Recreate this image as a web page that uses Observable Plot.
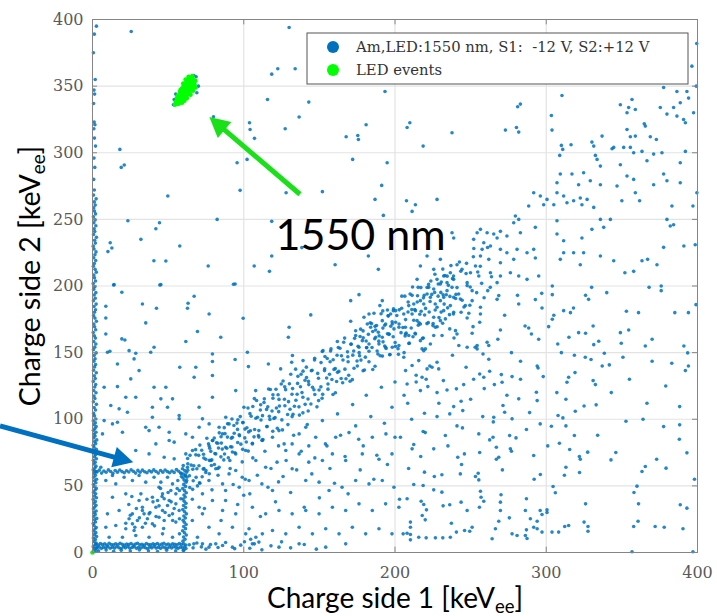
<!DOCTYPE html>
<html>
<head>
<meta charset="utf-8">
<script src="https://cdn.jsdelivr.net/npm/d3@7"></script>
<script src="https://cdn.jsdelivr.net/npm/@observablehq/plot@0.6"></script>
<style>
  html, body { margin: 0; padding: 0; background: #fff; }
  #chart svg { display: block; }
</style>
</head>
<body>
<div id="chart"></div>
<script>
// ---------- tick labels ----------
const xTicks = [0, 100, 200, 300, 400];
const yTicks = [0, 50, 100, 150, 200, 250, 300, 350, 400];
const legendLabels = ["Am,LED:1550 nm, S1:  -12 V, S2:+12 V", "LED events"];
const annotationText = "1550 nm";

// ---------- Am,LED events (blue) [x, y] in keV_ee ----------
const leftLine = [
[0.8,0.6],[2.1,1.5],[1.2,2.7],[2.6,3.6],[0.5,4.4],[1.7,5.8],[2.4,7.1],[0.9,8.2],[1.9,9.7],[0.6,10.9],[2.7,12],[1.3,13.4],[2.2,14.9],[0.7,16.1],[1.6,17.6],[2.5,18.8],[1,20.3],[0.5,21.7],[2,22.9],[1.4,24.5],[2.8,25.6],[0.8,27],[1.8,28.6],[1.1,30.1],[2.4,31.2],[0.6,32.8],[1.5,34.1],[2.3,35.5],[0.9,37],[1.9,38.3],[0.5,39.9],[2.6,41.1],[1.2,42.4],[2.1,44],[0.7,45.3],[1.7,46.9],[2.5,48.1],[1,49.6],[0.6,51],[2.2,52.3],[1.4,53.8],[2.7,55],[0.8,56.5],[1.9,57.9],[1.1,59.4],[2.4,60.6],[0.5,62.1],[1.6,63.5],[2.3,64.8],[0.9,66.4],[1.8,67.7],[0.6,69.2],[2.6,70.4],[1.3,71.9],[2,73.3],[0.7,74.8],[1.5,76.1],[2.5,77.5],[1,79],[0.5,80.4],[2.1,81.7],[1.4,83.3],[2.8,84.5],[0.8,86],[1.7,87.4],[1.1,88.9],[2.3,90.2],[0.6,91.7],[1.6,93],[2.4,94.5],[0.9,95.9],[1.9,97.3],[0.5,98.8],[2.2,100.2],
[1.3,102.5],[0.7,104.4],[2,106.9],[1.1,108.8],[2.6,111.2],[0.6,113.1],[1.6,115.6],[1,117.4],[2.3,119.9],[0.8,121.6],[1.5,124.2],[2.1,126.1],[0.5,128.4],[1.8,130.5],[1.2,132.6],[2.5,134.9],[0.7,136.8],[1.4,139.3],[2,141.1],[0.9,143.6],[1.7,145.4],[1.1,147.9],[2.4,149.8],[0.6,152.2],[1.5,154.1],[2.2,156.5],[0.8,158.4],[1.9,160.9],[1.2,162.7],[0.5,165.1],[2.1,167.2],[1.4,169.4],[0.9,171.5],[2.6,173.6],[1.6,175.9],[0.7,177.8],[1.3,180.3],[2,182.1],[1,184.6],[2.4,186.4],[0.6,188.9],[1.8,190.8],[1.1,193.2],[2.2,195],[0.8,197.5],[1.5,199.4],[0.5,201.8],[2,203.7],[1.3,206.1],[0.9,208.2],[2.5,210.4],[1.7,212.5],[0.6,214.8],[1.2,216.9],[2.1,219.1],[0.8,221.2],[1.6,223.5],[2.3,225.6],[1,227.8],[0.5,229.9],[1.9,232.2],[1.4,234.3],[2.6,236.5],[0.7,238.6],[1.5,240.9],[1.1,243],[2.2,245.2],[0.9,247.5],[1.7,249.6],[0.6,251.9],[2,254.1],[1.3,256.2],[0.8,258.6],[1.8,260.7],[1.2,263.1],[2.4,265.4],[0.7,268.2],
[1.2,272],[0.8,280],[1.5,289],[1,296],[2,305],[1.3,311],[0.9,318],[1.6,321],[1.1,323],[0.7,337],[1.4,344],[1,347],[1.8,355],[0.6,375],[1.2,389],[2.6,395]
];
const boxBottom = [
[3,3.5],[4.4,4.2],[5.9,3.1],[7.3,4],[8.8,3.4],[10.2,4.4],[11.7,3.2],[13.1,3.9],[14.6,3.3],[16,4.3],[17.5,3.6],[18.9,3],[20.4,4.1],[21.8,3.5],[23.3,4.4],[24.7,3.2],[26.2,3.8],[27.6,4.3],[29.1,3.1],[30.5,3.9],[32,3.4],[33.4,4.2],[34.9,3.6],[36.3,3],[37.8,4],[39.2,3.5],[40.7,4.4],[42.1,3.3],[43.6,3.9],[45,3.1],[46.5,4.2],[47.9,3.6],[49.4,3.2],[50.8,4.1],[52.3,3.4],[53.7,4.3],[55.2,3.7],[56.6,3.1],[58.1,4],[59.5,3.5],[61,4.2],
[2.4,6.2],[3.8,5.6],[5.2,6.8],[6.6,5.9],[8.1,6.5],[9.5,5.5],[11,6.9],[12.4,6],[13.9,5.7],[15.3,6.6],[16.8,5.8],[18.2,6.9],[19.7,6.1],[21.1,5.5],[22.6,6.4],[24,5.9],[25.5,6.8],[26.9,5.6],[28.4,6.3],[29.8,6.9],[31.3,5.8],[32.7,6.2],[34.2,5.5],[35.6,6.7],[37.1,6],[38.5,5.7],[40,6.5],[41.4,5.9],[42.9,6.8],[44.3,5.6],[45.8,6.3],[47.2,6.9],[48.7,5.8],[50.1,6.4],[51.6,5.5],[53,6.6],[54.5,6.1],[55.9,5.7],[57.4,6.8],[58.8,6],[60.3,6.5],[61.7,5.6],
[4,1.2],[9,1.8],[14,0.9],[19,1.6],[25,1.1],[31,1.9],[37,1.3],[43,0.8],[49,1.7],[55,1.2],[60,1.5],
[64,5.8],[66.5,3.5],[69,7.1],[72,4.2],[75,2.5],[78,6],[83,3.8],[88,7.5],[94,2.9],[98,5.5],[100.5,8.1],[104,3.2],[107,6.5],[112,2],[118,5],[125,8],[131,3.5],[140,6],[148,2.5]
];
const boxRight = [
[60.5,1.8],[61.8,3],[59.8,8.5],[61.2,10],[60.2,11.6],[62,13.1],[60.8,14.8],[59.6,16.3],[61.5,17.9],[60.3,19.5],[61.9,21],[60.7,22.7],[59.9,24.2],[61.4,25.9],[60.4,27.4],[62.1,29],[60.9,30.6],[59.7,32.2],[61.6,33.8],[60.2,35.3],[61.8,36.9],[60.6,38.5],[59.9,40.1],[61.3,41.7],[60.5,43.2],[62,44.8],[60.8,46.4],[59.6,48],[61.5,49.6],[60.3,51.1],[61.9,52.7],[60.7,54.3],[59.8,55.9],[61.2,57.4],[60.1,58.9],[62.2,60.2],[61,61.5],[59.5,62.8],[62.8,64],[61.5,58],[58.5,59.5],[63,61.8],[60,65.2],[62.4,56.5],[58.8,57]
];
const boxTop = [
[3,60.5],[4.5,61.8],[6,59.6],[7.5,61.2],[9,60.2],[10.5,62],[12,60.8],[13.5,59.4],[15,61.5],[16.5,60.3],[18,61.9],[19.5,60.7],[21,59.8],[22.5,61.4],[24,60.4],[25.5,62.1],[27,60.9],[28.5,59.6],[30,61.6],[31.5,60.2],[33,61.8],[34.5,60.6],[36,59.8],[37.5,61.3],[39,60.5],[40.5,62],[42,60.8],[43.5,59.6],[45,61.5],[46.5,60.3],[48,61.9],[49.5,60.7],[51,59.8],[52.5,61.2],[54,60.1],[55.5,62.2],[57,61],[58.5,59.5],[1.5,61.2]
];
const boxInside = [
[8.8,54],[15.4,51.5],[26.4,54],[35.2,52.8],[44,49],[52.9,51.5],[57.5,46.5],[13.2,41.5],[22,44],[30.8,39],[39.6,41.5],[46.3,44],[50.7,39],[55.1,44],[58.4,40.3],[9.9,29],[17.6,31.5],[26.4,29],[33,31.5],[37.4,29],[41.9,34],[46.3,31.5],[49.6,35.3],[52.9,29],[57.3,31.5],[8.8,19],[15.4,20.3],[22,17.8],[26.4,21.5],[29.7,24],[33,19],[36.3,25.3],[39.6,21.5],[44,26.5],[47.4,24],[50.7,27.8],[55.1,22.8],[57.5,25.3],[11,11.5],[19.8,11.5],[28.6,12.8],[37.4,11.5],[46.3,14],[52.9,11.5],[57.5,14],[24.2,25.3],[27.5,16.5],[34.1,29],[43,39],[47.4,40.3],[51.8,46.5],[45.2,52.8],[55.1,36.5],[56.4,54],[13.2,57.8],[20.9,56.5],[30.8,57.8],[40.7,56.5],[49.6,56.5],
[22,22],[25,28],[28,19],[31,26],[33,34],[35,22],[38,30],[40,38],[42,27],[44,35],[46,42],[48,30],[50,45],[52,38],[54,33],[56,48],[29,33],[36,40],[41,20],[47,18],[24,36],[32,44],[53,24],[45,48],[26,42]
];
// dense diagonal band, first pass (x 63-264)
const bandA = [
[63,66.6],[64.1,57.6],[64.5,72.9],[66.2,47.4],[67,65.1],[68.3,73.3],[68.5,56.4],[70.4,65.1],[71,80.6],[72.5,56.9],[73.4,73.7],[73.7,63],[74.9,70],[76.7,81.6],[77.2,59.1],[78.2,75.9],[78.9,69.5],[80.5,85.9],[80.6,66],[82,82.3],[82.9,63],[83.3,78.4],[85,86.9],[85.8,77.6],[87.1,93.7],[87.3,73.9],[89.2,86.6],[89.8,71.1],[91.3,79.4],[92.2,100.2],[92.5,75.4],[93.7,89.5],[95.5,97.1],[96,82.5],[97,88.4],[97.7,102],[99.3,77.4],[99.4,97.5],[100.8,92.6],[101.7,82.9],
[102.8,108.4],[103.2,90.5],[104.9,102.2],[105.7,82],[107,115.5],[107.2,92.3],[109.1,101.5],[109.7,87.7],[111.2,110.9],[112.1,84.3],[112.4,102.7],[113.6,115.3],[115.4,94.6],[115.9,109.3],[116.9,102.2],[117.6,122.3],[119.2,91],[119.3,115.8],[120.7,101.2],[121.6,108.4],[122.7,118.4],[123.1,105.7],[124.8,126.4],[125.6,92],[126.9,115],[127.1,124.3],[129,103.6],[129.6,113.2],[131.1,133.8],[132,102],[132.3,123],[133.5,109.7],[135.3,118.8],[135.8,132.2],[136.8,103.1],[137.5,124.4],[139.1,116.5],[139.2,136.1],[140.6,111.2],[141.5,131.3],[142.6,106.2],[143,126],[144.7,136.4],[145.5,124],[146.8,144.5],[147,118.6],[148.9,134.4],[149.5,114],[151,124.3],[151.9,150.9],[152.2,118.7],[153.4,136.5],[155.2,145.6],[155.7,126.5],[156.7,133.8],[157.4,151.2],[159,118.6],[159.1,144.7],[160.5,138],[161.4,128.3],[162.5,153.8],[162.9,135.9],[164.6,147.6],[165.4,127.4],[166.7,160.9],[166.9,137.6],[168.8,146.9],[169.4,133],[170.9,156.3],[171.8,129.7],[172.1,148.1],[173.3,160.7],[175.1,140],[175.6,154.7],[176.6,147.6],[177.3,167.6],[178.9,136.4],[179,161.1],[180.4,146.6],[181.3,153.8],[182.4,163.7],[182.8,151],[184.5,171.8],[185.3,137.3],[186.6,160.4],[186.8,169.7],[188.7,149],[189.3,158.6],[190.8,179.2],[191.7,147.4],[192,168.4],[193.2,155],[195,164.2],[195.5,177.6],[196.5,148.4],[197.2,169.8],[198.8,161.9],[198.9,181.5],
[200.3,154.7],[201.2,177.9],[202.3,148.7],[202.7,171.5],[204.4,183.3],[205.2,168.9],[206.5,192.4],[206.7,162.5],[208.6,180.5],[209.2,156.9],[210.7,168.5],[211.6,199.2],[211.9,161.9],[213.1,182.3],[214.9,192.7],[215.4,170.6],[216.4,178.8],[217.1,198.8],[218.7,161],[218.8,191.1],[220.2,183.2],[221.1,171.8],[222.2,201.2],[222.6,180.5],[224.3,193.7],[225.1,170.3],[226.4,208.8],[226.6,182],[228.5,192.4],[229.1,176.3],[230.6,203],[231.5,172.1],[231.8,193.4],[233,207.8],[234.8,183.6],[235.3,200.5],[236.3,192.2],[237,215.3],[238.6,179],[238.7,207.5],[240.1,190.6],[241,198.8],[243.5,211.1],[245.6,184.2],[247.3,217],[249.7,199.3],[252.1,228.1],[254,195],[256.4,214.8],[258.9,191.2],[261.2,228.9],[263.8,206.9]
];
// dense diagonal band, second pass (x 62-257)
const bandB = [
[62.3,54],[62.9,70.5],[64.3,48.8],[65.2,65.6],[66.3,62.5],[66.6,53.8],[68.2,77.2],[69,62.9],[70.2,72.9],[70.7,52.4],[72.2,76.7],[73.2,62.6],[73.6,70.9],[74.9,60],[75.6,85.7],[77.3,69.1],[77.5,78.3],[78.6,65.3],[79.5,84.1],[80.9,74.3],[81.5,62.8],[82.9,82],[83.8,89.8],[84.9,71.8],[85.2,82.1],[86.8,69.5],[87.6,89.2],[88.8,78.2],[89.3,96.6],[90.8,69],[91.8,85.8],[92.2,79.2],[93.5,95.3],[94.2,74.9],[95.9,92.4],[96.1,99.6],[97.2,87.6],[98.1,81.3],[99.5,97.6],
[100.1,109],[100.7,86],[102.1,93.6],[103,76.1],[104.1,104.2],[104.4,91.4],[106,109.6],[106.8,86.8],[108,100.7],[108.5,114.1],[110,86.6],[111,106.9],[111.4,99.4],[112.7,84.8],[113.4,112.6],[115.1,107.4],[115.3,94.5],[116.4,122.7],[117.3,99.9],[118.7,106.2],[119.3,118.4],[119.9,100.6],[121.3,122.5],[122.2,93.3],[123.3,114.9],[123.6,109.9],[125.2,99.5],[126,128.7],[127.2,110.1],[127.7,122.2],[129.2,96],[130.2,126.6],[130.6,107.5],[131.9,118.8],[132.6,103.8],[134.3,137.6],[134.5,114.3],[135.6,126.9],[136.5,109.3],[137.9,133.8],[138.5,120],[139.1,104.8],[140.5,129.3],[141.4,139.1],[142.5,115.2],[142.8,128.4],[144.4,111.4],[145.2,136.8],[146.4,122.1],[146.9,145.8],[148.4,109.3],[149.4,130.8],[149.8,122],[151.1,142.5],[151.8,115.8],[153.5,137.9],[153.7,147.1],[154.8,131],[155.7,122.6],[157.1,143.2],[157.7,152.8],[158.3,129.8],[159.7,137.4],[160.6,119.9],[161.7,148],[162,135.2],[163.6,153.3],[164.4,130.6],[165.6,144.5],[166.1,157.8],[167.6,130.4],[168.6,150.6],[169,143.1],[170.3,128.5],[171,156.4],[172.7,151.2],[172.9,138.3],[174,166.4],[174.9,143.7],[176.3,150],[176.9,162.1],[177.5,144.4],[178.9,166.3],[179.8,137],[180.9,158.7],[181.2,153.7],[182.8,143.2],[183.6,172.4],[184.8,153.8],[185.3,165.9],[186.8,139.8],[187.8,170.4],[188.2,151.2],[189.5,162.6],[190.2,147.6],[191.9,181.3],[192.1,158.1],[193.2,170.6],[194.1,153.1],[195.5,177.6],[196.1,163.7],[196.7,148.6],[198.1,173.1],[199,182.8],
[200.1,157.6],[200.4,172.8],[202,153],[202.8,182.1],[204,165],[204.5,192.4],[206,150],[207,174.8],[207.4,164.6],[208.7,188],[209.4,157.1],[211.1,182.3],[211.3,193],[212.4,174.3],[213.3,164.5],[214.7,188],[215.3,199],[215.9,172.4],[217.3,181],[218.2,160.7],[219.3,193],[219.6,178.2],[221.2,198.9],[222,172.5],[223.2,188.4],[223.7,203.8],[225.2,171.9],[226.2,195.2],[226.6,186.5],[227.9,169.4],[228.6,201.5],[230.3,195.2],[230.5,180.4],[231.6,212.7],[232.5,186.4],[233.9,193.4],[234.5,207.4],[236,178.5],[238,205.5],[240.3,193.7],[242.6,218],[244.4,189.3],[247,209.3],[249.5,185.6],[251.8,221.9],[254.7,210.5],[257.3,202]
];
const bandUpper = [
[144.3,178.3],[170.7,189],[176.2,193.5],[190,185.3],[191.6,189],[195,182],[197.1,179],[200.4,181.5],[182.8,179],[186.1,179.5],[179.5,176.5],[170.7,173.5],[181.7,171.5],[183.9,169],[187.2,167],[189,165.3],[193.8,171.5],[191.6,174],[198.2,171.5],[199.3,167.8],[202.6,169],[196,164],[191.6,161.5],[187.2,161.5],[174,162.8],[178.4,159],[182.8,156.5],[176.2,154],[189.4,156.5],[193.8,154],[198.2,154],[202.6,155.3],[161.9,158.3],[152.4,151.5],
[210,194],[212.4,186.5],[213.5,181.5],[211.3,179],[214.6,174],[216.8,171.5],[206.9,164],[209.1,162.8],[213.5,164],[216.8,159],[205.8,146.5],[211.3,140.3],[215.7,144],[217.9,152.8],[219,151.5],[223.4,156.5],[225.6,162.8],[226.7,169],[230,174],[233.3,175.3],[225.6,176.5],[227.8,184],[230,189],[232.2,191.5],[234.4,196.5],[237.7,199],[242.1,194],[243.2,190.3],[247.7,200.3],[251,196.5],[232.2,181.5],[236.6,185.3],[238.8,191.5],[223.4,191.5],[221.2,194],[219,186.5],[216.8,189],[209.1,185.3],[205.8,179],[206.9,169],[230,201.5],[225.6,197.8],[222.3,199],[251,189],[246.5,185.3],[238.8,180.3],[231.1,162.8],[227.8,142.8],[228.9,137.8],[224.5,139],[221.2,137.8],[217.9,131.5],[220.1,152.8],
[281,193],[281.8,186.5],[272.5,178],[269.7,167],[288.4,168.5],[290.2,164],[292.8,189.8],[297,194.5],[297.2,183.5],[260.9,157.8],[258.2,149],[254.3,155.3],[251.6,169.5],[256.5,179],[256.5,184],[256,172.8],[261.3,196.5],[263,199],[268.6,192.8],[267.5,190],[248.8,179.5],[247.7,176],[243.7,180.3],[240,166.5],[241,164],[239,161],[236.2,167.8],[251,164.5],[247.7,154],[242.2,155.3],[254.3,152.8],[262,155.3],
[237.7,240],[238.8,236],[254.3,240],[256.5,242.5],[260.9,240],[265.3,239],[267.5,236],[269.7,241],[274,237.5],[278.5,247.5],[279.6,252.5],[281.8,250],[282.9,240],[252,235],[258.7,232.5],[263.1,230],[257.6,227.5],[269.7,227.5],[274,225],[280.7,227.5],[287.3,225],[291.7,227.5],[292.8,221],[278.5,220],[269.7,217.5],[262,220],[256.5,222.5],[253.2,215],[249.9,210],[244.3,212.5],[241,216],[236.6,210],[232.2,207.5],[227.8,205],[234.4,202.5],[238.8,205],[247.7,202.5],[255.4,207.5],[263.1,210],[269.7,207.5],[276.3,210],[281.8,207.5],[287.3,205],[295,207.5],[267.5,202.5],[221.2,222.5],[216.8,215],[214.6,205],[225.6,212.5],[230,220],
[307.1,239],[311.5,234],[311.5,225],[309.3,220],[323.6,236],[324.7,225],[322.5,216],[335.8,222.5],[344.6,219],[357.8,211],[363.3,219],[373.2,216],[377.6,229],[384.2,246],[398.5,231],[379.8,250],[383.1,260],[307.1,249],[318.1,225],[335.8,250],[338,244],[330.2,242.5],[350,264],[358.9,270],[361.7,264],[346.8,275],[353.4,282.5],[357.8,280],[349,291],[344.6,304],[351.2,304],[355.6,304],[357.8,300],[363.3,301],[371,299],[376.5,300],[366.6,294],[377.6,284],[371,276],[379.8,279],[388.6,292.5],[392,301],[388.6,277.5],[399.6,270],[292.8,244],[288.4,260],[296.1,267.5],[300.5,265],[305,261],[313.7,262.5],[318.1,264],[322.5,266],[323.6,261],[307.1,270],[311.5,267.5],[298.3,261],[291.7,270],[324.7,285],[329.1,279],[321.4,276],[317,284],[327,265],[335.8,276],[331.4,259],[342.4,250],[309.3,284],[307.1,277.5],[330.2,308],[331.4,305],[336.9,312.5],[332.5,298],[333.6,295],[335.8,290],[343.5,303],[310,305.5],[310.9,302.5],[308.9,298],[316.4,306],
[349,336],[356.7,340],[354.5,334],[358.9,332.5],[353.4,330],[353.4,317.5],[355.6,312],[358.9,312.5],[365.5,320],[364.8,321.8],[368.8,312],[372.8,310],[375.4,334],[377.6,349],[379.8,329],[384.2,334],[386.4,327.5],[388.6,337.5],[390.8,325],[392,322.5],[386.4,346],[393,346],[394.1,341],[397.4,330],[399.2,350],[396.3,365],[399.5,382]
];
const belowBand = [
[97,49],[100,43],[103.5,54],[112,51.5],[119,46.5],[123,53],[114.5,64],[108,69],[122,67.8],[132,62.8],[136.6,74],[143,67.8],[152,69],[158.6,74],[167.4,69],[178.4,74],[189.4,70],[198,74],[200,86.5],[194,89],[185,86.5],[176,85],[169.6,90],[160.8,86.5],[154,81.5],[147.6,86.5],[143,80],[132,81.5],[127.8,76.5],[141,54],[149.8,52.8],[156.4,46.5],[165,49],[174,54],[182.8,51.5],[191.6,54],[199.3,49],[202.6,34],[193.8,36.5],[185,31.5],[176.2,36.5],[167.4,31.5],[158.6,34],[149.8,29],[141,31.5],[132,29],[123.3,31.5],[114.5,29],[105.7,34],[94.7,29],[86,31.5],[79.3,39],[72.7,44],[77,54],[88,46.5],[72.7,29],[77,19],[83.7,14],[92.5,19],[101.3,14],[104.6,10],[105.7,6.5],[108,11.5],[110,7.8],[103.5,17.8],[112.3,14],[119,16.5],[127.8,14],[136.6,19],[145.4,14],[154.2,17.8],[163,14],[171.8,19],[180.6,14],[189.4,17.8],[198,14],[123.3,4],[136.6,6.5],[154.2,4],[167.4,6.5],[72.7,6.5],[77,4],[86,5.3],[92.5,4],[81.5,6.5],[67,6.5],[69.4,11.5],[66,24],[70.5,34],[69.4,50],[75,61.5],[83.7,64],[90.3,59],[94.7,61.5],[99,56.5],[86,51.5],
[88,79],[94.7,74],[101.3,76.5],[105.7,81.5],[92.5,86.5],[81.5,74],[78.2,69],[112.3,84],[119,86.5],[123.3,91.5],[110,91.5],[126.7,81.5],[136.6,89],[141,94],
[304,200],[330,199],[368,199],[376,196.5],[326,193],[304,193.5],[399,186],[394,180],[353,181],[318,183.5],[311.5,181.5],[305,178],[301.6,169.5],[321.4,165],[326,164.5],[315,161.5],[354.5,167],[334.7,158.5],[331.4,156],[307.6,156.5],[349.6,157],[365.5,155],[391,155],[393.5,149.8],[338.4,149.5],[318.6,148],[325.8,146.5],[329.6,144.8],[350.7,146.5],[341.7,140.8],[370,143.5],[383,142],[392,136.5],[314.8,131.5],[313.7,127.8],[331,129],[332.5,126],[313,115],[319.2,106],[333,110.8],[366.6,112],[388.2,109.5],[307.8,102.8],[311,101],[303.4,94.8],[352.7,98.5],[377.6,94.5],[388.2,95.8],[318.6,87.8],[308.7,82],[315.5,77.3],[321.9,72],[322.5,70],[327.4,75.3],[342.8,69.5],[393,74.8],[313,64],[312,58],[296.1,58.5],[365.5,64.5],[363.3,60.8],[379.2,63.3],[398,55],[304.5,49.5],[306,44.8],[360,49.8],[326,36.5],[361,36.5],[388.6,35.8],[393,33.3],[300.5,32],[297.2,28.5],[294,23.5],[325,22.8],[327.6,19.5],[327.6,16],[312.2,19.5],[314.8,20.3],[303.8,15.3],[308.2,15.3],[360.7,23.5],[357.8,19.5],[372,19.5],[378,19],[390.4,17.8],[356.7,0.6],[397,0.6],
[207,136.5],[208,126.5],[214,128],[220.6,130],[221.7,124.5],[216.8,121.5],[227.8,120],[234.4,122],[240.6,122.8],[245.4,126],[252,130],[258.7,131.5],[265.7,126],[270.8,127.8],[277.4,132],[270.3,133.5],[262.6,136],[256,134],[283,143.5],[294,140],[294.6,138.5],[293.5,120.3],[294,114],[281.8,115.3],[271.4,110.3],[272.5,105.3],[265.3,101.5],[277.4,100.3],[258,102],[243.7,113.5],[244.8,106.5],[238.8,109.5],[236.2,104],[227.8,102],[219.5,104.5],[208.4,112],[203.6,86.5],[212.4,81],[211.3,77.8],[218.6,90.8],[225.6,77.8],[233.3,87.8],[244.6,93.5],[255.4,89],[262.6,84.5],[264.8,86.5],[267,79],[275.8,87.8],[276.3,77.8],[277,76],[286.9,92.3],[296,96.5],[291.7,72.8],[241.5,71.5],[245.9,74],[267,70],[268.6,71.5],[255,59.5],[255.4,54.5],[253.2,57],[243.2,59],[231,58.3],[219.5,60.3],[212.4,51],[218.6,50.3],[225.6,47],[231,45.3],[256.5,46],[256.9,41.5],[258.7,38.5],[270.1,43.3],[286.9,40.3],[269.7,37.8],[208,40.3],[217.3,38.5],[219,36],[220.8,32],[243.7,37.8],[236.2,35.8],[231.8,35],[255.8,34],[269.7,31.5],[286.2,31.5],[275.6,26],[268.6,23.5],[266.4,17.8],[251,19],[249.4,16],[237.3,22],[246,16.5],[240.6,15.3],[236.6,11.5],[231.6,11],[226.7,11],[220.6,11],[215.7,11.5],[210.2,9.5],[210.2,13.5],[208,14.5],[205.4,14],[210.2,22.8],[210.2,19],[218,27.8],[220,24.5],[247.7,31.5],[264.2,10.3],[277.4,14],[280.7,12.8],[286.2,12.8],[287.3,10.5],[296,31.5],[300.5,30],[286.9,17],[291.7,19],[294,17.8],[297.2,15.3],[289.5,25.3],
[66,40],[71,52],[74,33],[79,47],[83,58],[85,24],[88,39],[91,63],[93,51],[96,36],[99,68],[101,55],[104,44],[106,71],[109,58],[111,27],[114,76],[116,49],[118,63],[121,38],[123,80],[126,57],[128,69],[131,45],[133,88],[135,62],[138,76],[140,34],[142,96],[145,59],[147,71],[150,41],[152,99],[155,80],[157,63],[160,52],[162,104],[164,88],[167,72],[169,44],[172,111],[174,95],[177,62],[179,80],[181,118],[184,102],[186,55],[188,73],[191,124],[193,97],[195,66],[198,109],[200,128],[203,40],[206,118],[209,63],[211,100],[214,133],[217,72],[220,90],[223,140],[226,57],[229,112],[232,129],[235,80],[238,148],[241,95],[244,66],[247,139],[250,115],[253,154],[256,75],[259,123],[262,145],[265,98],[268,160],[271,62],[274,118],[277,150],[280,86],[283,130],[286,170],[289,105],[292,55],[295,160],[298,132],[301,80],[304,175],[307,120],[310,150],[313,95],[316,180],[319,135],[322,60],[325,110],[328,190],[331,170],[334,88],[337,140],[340,195],[343,120],[346,75],[349,165],[352,210],[355,130],[358,45],[361,180],[364,100],[367,220],[370,160],[373,70],[376,200],[379,125],[382,245],[385,180],[388,85],[391,230],[394,140],[397,260]
];
const aboveBand = [
[14.3,201],[45.2,201],[94.3,201.5],[19.4,195.3],[67.2,192.3],[33,186.5],[42.3,183.3],[63.2,187],[62.8,183.3],[77.1,179],[99.6,175.8],[35.2,172.3],[8.8,184.8],[8.8,176],[69.4,165.8],[84.8,161.5],[19.4,160.3],[21.4,159.5],[61.7,158.3],[8.8,164],[9.9,150.3],[11.5,151],[24.2,151.5],[28.6,149.5],[38.5,150.3],[40.7,154],[27.5,145.3],[79.3,149],[79.3,143.3],[94.3,144.8],[103.1,139.5],[116.3,141.5],[124.4,137.8],[132.2,147.8],[131.7,142.8],[139.2,144],[130,169],[129.5,161.5],[102.4,150.3],[57.7,139],[68.3,139],[7.7,124],[16.5,124.5],[25.3,130.3],[40.7,124],[48.5,124],[67.2,131.5],[79.3,132.8],[94.7,121.5],[107.9,121.5],[22,116.5],[28.6,116.5],[45.2,115.3],[52.9,115.3],[70.5,109],[79.3,116.5],[72.7,100.3],[88.1,101.5],[39.6,101.5],[57.3,100.3],[12.1,110.3],[17.6,107.8],[7.7,99],[13.2,96.5],[16.5,97.8],[35.2,94],[37.4,91.5],[66.1,86.5],[50.7,84],[41.9,81.5],[54,82.8],[70.5,94],[61.7,89],[28.6,76.5],[37.4,74],[47.4,71.5],[54,70.3],[61.7,74],[66.1,76.5],[50.7,90.3],[44,94],[77.1,96.5],[83.7,94],[90.3,96.5],[5.5,64],[6.6,89],[19.8,90.3],[23.1,105.3],[30.8,136.5],[16.5,141.5],[77.1,80],[79.3,84],[85.9,89],[57.3,102.8],[49.6,109],[39.6,109],
[25.6,391],[130,394],[118.5,359],[122.5,363],[134,363],[193.4,346],[115.7,340],[143,338],[136.6,326.8],[80,327],[103.8,322.5],[104.2,317.5],[107.1,310.8],[127.4,318],[180.9,321],[167.7,312],[175.4,313],[175.8,310],[18.1,302.5],[19,289],[21,290.8],[95.6,292.5],[102.2,295],[172,295],[194.8,292.5],[97.6,271.8],[49.8,267.5],[128,270],[152,270.8],[191.2,275.5],[186.8,265],[192.3,253],[23.4,249],[41.9,243],[44.3,247.5],[82.4,250],[118.5,248.5],[32,235],[57.7,230],[11.7,232.5],[12.8,228.5],[10.2,225.8],[40.6,219],[48.5,218.8],[76.5,215],[106.9,215],[117,211],[138.4,228.8],[118.5,222.5],[160.4,216],[182.4,222.5],[189,212.5],[13.9,200.8],[44.5,200.8],[93.2,201.3],
[208,319],[209.8,322.5],[237.7,315],[218.6,305],[273,317],[280.3,319],[281.8,315.5],[281.1,334.5],[282.9,336.5],[310.4,343],[303.4,328],[303.8,317],[207.6,264],[213.5,261],[211.3,256],[227.8,265]
];
const ledBlue = [[53.5,336],[55,344],[65,356.5],[69,345],[68.5,357],[54,340],[67,358],[70,350]];

// ---------- LED events (green) ----------
const ledGreen = [
[55,338],[56,340],[57,339],[57.5,342],[58,340.5],[58.5,344],[59,342],[59.5,346],[60,343.5],[60.5,347.5],[61,345],[61.5,349],[62,346.5],[62.5,350],[63,348],[63.5,351.5],[64,349.5],[64.5,353],[65,351],[65.5,354],[66,352.5],[66.5,355],[67,353.5],[56.5,343],[57.8,345.5],[59,348],[60.2,350],[61.3,352],[62.6,353.5],[63.8,355],[65,356],[58.5,338.5],[60,340.5],[61.5,342],[62.8,344],[64,346],[65.2,347.8],[66.4,349.5],[67.5,351],[68,354],[54.5,336],[56,337],[57,336.8],[59.2,337.5],[60.8,339],[62.4,341],[64.8,343.5],[66.5,346.5],[68.2,349],[55.8,341],[58.2,347],[60,352],[61.6,355],[63.5,357],[66,357.5],[0,0]
];

// ---------- annotation arrows (data space) ----------
const arrows = [
  {x1: 137.5, y1: 268.5, x2: 77.6, y2: 326.5, color: "#19e019"},
  {x1: -60.8, y1: 94.6, x2: 27.3, y2: 67.3, color: "#0070c0"}
];

const blueData = [...leftLine, ...boxBottom, ...boxRight, ...boxTop, ...boxInside, ...bandA, ...bandB, ...bandUpper, ...belowBand, ...aboveBand, ...ledBlue];

const W = 717, H = 616;
const tickFont = "DejaVu Serif";
const plot = Plot.plot({
  width: W, height: H,
  marginLeft: 92, marginRight: 20, marginTop: 19, marginBottom: 64,
  x: {domain: [0, 400]},
  y: {domain: [0, 400]},
  style: {background: "white", overflow: "visible"},
  marks: [
    Plot.gridX(xTicks.slice(1, -1), {stroke: "#e3e3e3", strokeOpacity: 1, strokeWidth: 1.2}),
    Plot.gridY(yTicks.slice(1, -1), {stroke: "#e3e3e3", strokeOpacity: 1, strokeWidth: 1.2}),
    Plot.dot(blueData, {x: d => d[0], y: d => d[1], r: 1.8, fill: "#0072bd", fillOpacity: 0.85, stroke: "none"}),
    Plot.dot(ledGreen, {x: d => d[0], y: d => d[1], r: 2.3, fill: "#00ff00", stroke: "none"}),
    Plot.frame({stroke: "#858585", strokeWidth: 1}),
    Plot.ruleX(xTicks, {y1: 0, y2: 4, stroke: "#858585"}),
    Plot.ruleX(xTicks, {y1: 400, y2: 396, stroke: "#858585"}),
    Plot.ruleY(yTicks, {x1: 0, x2: 3.3, stroke: "#858585"}),
    Plot.ruleY(yTicks, {x1: 400, x2: 396.7, stroke: "#858585"}),
    Plot.axisX(xTicks, {tickSize: 0, tickPadding: 14, fontSize: 16, fontFamily: tickFont, fill: "#5a5a5a", label: null}),
    Plot.axisY(yTicks, {tickSize: 0, tickPadding: 9, fontSize: 16, fontFamily: tickFont, fill: "#5a5a5a", label: null}),
    Plot.text([annotationText], {x: 121, y: 237, text: d => d, textAnchor: "start", lineAnchor: "middle", fontSize: 43, fontFamily: "Lato", fill: "#000"})
  ]
});
document.getElementById("chart").appendChild(plot);

const svg = d3.select(plot);
const sx = plot.scale("x"), sy = plot.scale("y");

// arrows with filled heads
arrows.forEach(a => {
  const x1 = sx.apply(a.x1), y1 = sy.apply(a.y1), x2 = sx.apply(a.x2), y2 = sy.apply(a.y2);
  const dx = x2 - x1, dy = y2 - y1, L = Math.hypot(dx, dy);
  const ux = dx / L, uy = dy / L, px = -uy, py = ux;
  const hl = 20, hw = 10.5;
  const bx = x2 - ux * hl, by = y2 - uy * hl;
  svg.append("line").attr("x1", x1).attr("y1", y1).attr("x2", bx + ux * 2).attr("y2", by + uy * 2)
    .attr("stroke", a.color).attr("stroke-width", 5);
  svg.append("path")
    .attr("d", `M${x2},${y2}L${bx + px * hw},${by + py * hw}L${bx - px * hw},${by - py * hw}Z`)
    .attr("fill", a.color);
});

// axis titles with subscripts
function title(g, main) {
  g.append("tspan").text(main);
  g.append("tspan").attr("font-size", "0.66em").attr("dy", "0.28em").text("ee");
  g.append("tspan").attr("dy", "-0.18em").text("]");
}
const tx = svg.append("text").attr("x", 395).attr("y", 608).attr("text-anchor", "middle")
  .attr("font-family", "Lato").attr("font-size", 28).attr("fill", "#000");
title(tx, "Charge side 1 [keV");
const ty = svg.append("text").attr("transform", "translate(40,276) rotate(-90)").attr("text-anchor", "middle")
  .attr("font-family", "Lato").attr("font-size", 28.5).attr("fill", "#000");
title(ty, "Charge side 2 [keV");

// legend
const lg = svg.append("g");
lg.append("rect").attr("x", 307).attr("y", 33).attr("width", 381).attr("height", 51)
  .attr("fill", "#fff").attr("stroke", "#555").attr("stroke-width", 1);
const legendColors = ["#0072bd", "#00ff00"];
legendLabels.forEach((lab, i) => {
  const cy = 47 + i * 23;
  lg.append("circle").attr("cx", 333).attr("cy", cy).attr("r", 6).attr("fill", legendColors[i]);
  lg.append("text").attr("x", 356).attr("y", cy).attr("dy", "0.35em").attr("text-anchor", "start")
    .attr("font-family", "DejaVu Serif").attr("font-size", 14.8).attr("fill", "#333")
    .style("white-space", "pre").text(lab);
});
</script>
</body>
</html>
